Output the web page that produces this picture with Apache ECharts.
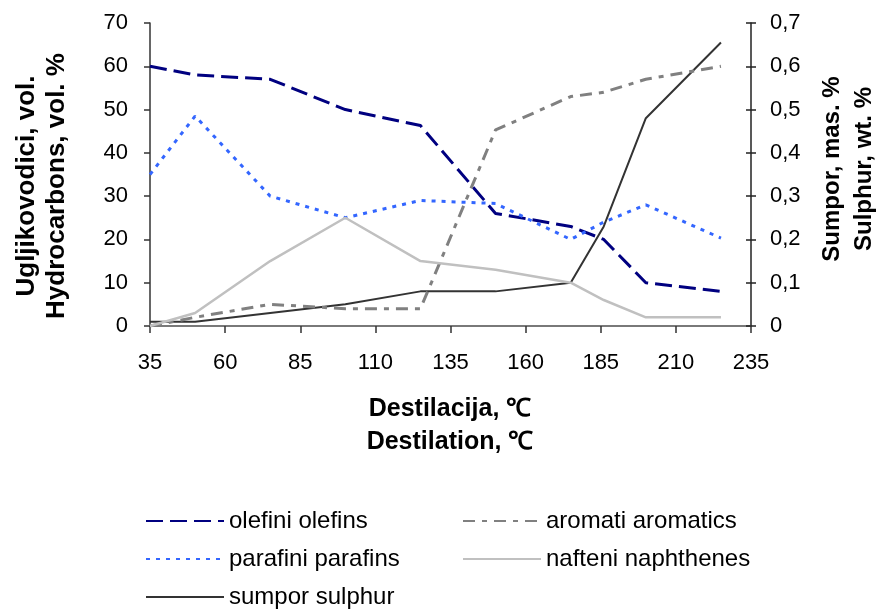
<!DOCTYPE html>
<html>
<head>
<meta charset="utf-8">
<script src="https://cdn.jsdelivr.net/npm/echarts@6/dist/echarts.min.js"></script>
<style>
html,body{margin:0;padding:0;background:#fff;}
#chart{width:877px;height:610px;}
</style>
</head>
<body>
<div id="chart"></div>
<script>
// Data
const temps = [35, 50, 75, 100, 125, 150, 175, 186, 200, 225];
const olefins = [60, 58, 57, 50, 46.3, 26, 23, 20, 10, 8];
const parafins = [35, 48.5, 30, 25, 29, 28.3, 20, 24, 28, 20.3];
const aromatics = [0, 2, 5, 4, 4, 45.3, 53, 54, 57, 60];
const naphthenes = [0, 3, 15, 25, 15, 13, 10, 6, 2, 2];
const sulphur = [0.01, 0.01, 0.03, 0.05, 0.08, 0.08, 0.1, 0.23, 0.48, 0.655];
const xTicks = [35, 60, 85, 110, 135, 160, 185, 210, 235];
const names = ['olefini olefins', 'parafini parafins', 'sumpor sulphur', 'aromati aromatics', 'nafteni naphthenes'];

const FONT = "'Liberation Sans', Arial, sans-serif";
const pairs = (ys) => temps.map((t, i) => [t, ys[i]]);

const chart = echarts.init(document.getElementById('chart'), null, {renderer: 'canvas'});
const legendCommon = {
  orient: 'vertical', padding: 0, height: 130,
  itemWidth: 78, itemHeight: 24, itemGap: 14,
  itemStyle: {opacity: 0},
  textStyle: {fontSize: 24, lineHeight: 24, color: '#000', fontFamily: FONT}
};
const option = {
  animation: false,
  backgroundColor: '#ffffff',
  textStyle: {fontFamily: FONT},
  grid: {left: 150, right: 126, top: 23, bottom: 284, containLabel: false},
  xAxis: [{
    type: 'value', min: 35, max: 235, position: 'bottom',
    axisLine: {show: true, onZero: false, lineStyle: {color: '#333333', width: 1.5}},
    axisTick: {show: true, length: 7, inside: false, customValues: xTicks, lineStyle: {color: '#333333', width: 1.5}},
    axisLabel: {show: true, margin: 26, customValues: xTicks, fontSize: 22, color: '#000', fontFamily: FONT},
    splitLine: {show: false}
  }, {
    type: 'value', min: 35, max: 235, position: 'top',
    axisLine: {show: true, lineStyle: {color: '#808080', width: 1.5}},
    axisTick: {show: false}, axisLabel: {show: false}, splitLine: {show: false}
  }],
  yAxis: [{
    type: 'value', min: 0, max: 70, interval: 10, position: 'left',
    axisLine: {show: true, lineStyle: {color: '#333333', width: 1.5}},
    axisTick: {show: true, length: 6, lineStyle: {color: '#333333', width: 1.5}},
    axisLabel: {margin: 22, fontSize: 22, color: '#000', fontFamily: FONT},
    splitLine: {show: false}
  }, {
    type: 'value', min: 0, max: 0.7, interval: 0.1, position: 'right',
    axisLine: {show: true, lineStyle: {color: '#222222', width: 1.5}},
    axisTick: {show: true, length: 5, lineStyle: {color: '#222222', width: 1.5}},
    axisLabel: {margin: 19, fontSize: 22, color: '#000', fontFamily: FONT,
      formatter: v => v === 0 ? '0' : v.toFixed(1).replace('.', ',')},
    splitLine: {show: false}
  }, {
    type: 'value', min: 0, max: 0.7, interval: 0.1, position: 'right',
    axisLine: {show: false},
    axisTick: {show: true, inside: true, length: 5, lineStyle: {color: '#222222', width: 1.5}},
    axisLabel: {show: false}, splitLine: {show: false}
  }],
  legend: [
    Object.assign({}, legendCommon, {left: 145, top: 509, data: [names[0], names[1], names[2]]}),
    Object.assign({}, legendCommon, {left: 462, top: 509, data: [names[3], names[4]]})
  ],
  series: [{
    name: names[0], type: 'line', xAxisIndex: 0, yAxisIndex: 0, data: pairs(olefins),
    symbol: 'none', color: '#000080',
    lineStyle: {color: '#000080', width: 3, type: [17, 7]}
  }, {
    name: names[1], type: 'line', xAxisIndex: 0, yAxisIndex: 0, data: pairs(parafins),
    symbol: 'none', color: '#3366FF',
    lineStyle: {color: '#3366FF', width: 3, type: [4, 6]}
  }, {
    name: names[2], type: 'line', xAxisIndex: 0, yAxisIndex: 1, data: pairs(sulphur),
    symbol: 'none', color: '#333333',
    lineStyle: {color: '#333333', width: 2}
  }, {
    name: names[3], type: 'line', xAxisIndex: 0, yAxisIndex: 0, data: pairs(aromatics),
    symbol: 'none', color: '#808080',
    lineStyle: {color: '#808080', width: 3, type: [12, 7, 5, 7]}
  }, {
    name: names[4], type: 'line', xAxisIndex: 0, yAxisIndex: 0, data: pairs(naphthenes),
    symbol: 'none', color: '#C0C0C0',
    lineStyle: {color: '#C0C0C0', width: 2.5}
  }],
  graphic: [{
    type: 'text', x: 42, y: 186, rotation: Math.PI / 2,
    style: {text: 'Ugljikovodici, vol.\nHydrocarbons, vol. %', font: 'bold 26px ' + FONT,
      fill: '#000', align: 'center', verticalAlign: 'middle', lineHeight: 30}
  }, {
    type: 'text', x: 848, y: 169, rotation: Math.PI / 2,
    style: {text: 'Sumpor, mas. %\nSulphur, wt. %', font: 'bold 24px ' + FONT,
      fill: '#000', align: 'center', verticalAlign: 'middle', lineHeight: 32}
  }, {
    type: 'text', x: 450, y: 426,
    style: {text: 'Destilacija, \u2103\nDestilation, \u2103', font: 'bold 25px ' + FONT,
      fill: '#000', align: 'center', verticalAlign: 'middle', lineHeight: 33}
  }]
};
chart.setOption(option);
</script>
</body>
</html>
